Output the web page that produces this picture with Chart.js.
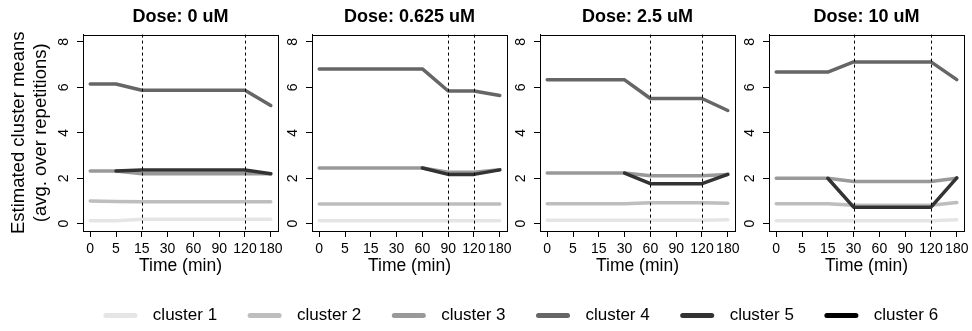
<!DOCTYPE html>
<html>
<head>
<meta charset="utf-8">
<script src="https://cdn.jsdelivr.net/npm/chart.js@4.4.1/dist/chart.umd.min.js"></script>
<style>
  html, body { margin: 0; padding: 0; background: #fff; overflow: hidden; }
  #wrap { position: relative; width: 972px; height: 331px; overflow: hidden; }
  canvas { position: absolute; }
</style>
</head>
<body>
<div id="wrap">
  <canvas id="p0"></canvas>
  <canvas id="p1"></canvas>
  <canvas id="p2"></canvas>
  <canvas id="p3"></canvas>
  <canvas id="leg"></canvas>
</div>
<script>
// time points (equally spaced categories)
const timeLabels = ['0', '5', '15', '30', '60', '90', '120', '180']
const yTicks = [0, 2, 4, 6, 8]
const doses = ['Dose: 0 uM', 'Dose: 0.625 uM', 'Dose: 2.5 uM', 'Dose: 10 uM']
const clusterNames = ['cluster 1', 'cluster 2', 'cluster 3', 'cluster 4', 'cluster 5', 'cluster 6']
const clusterColors = ['#e5e5e5', '#bebebe', '#999999', '#666666', '#333333', '#000000']

// dashed vertical lines (index into timeLabels) per dose
const changePoints = [[2, 6], [5, 6], [4, 6], [3, 6]]

// estimated cluster means, one array per cluster, per dose
const dose0 = [
  [0.13, 0.13, 0.2, 0.2, 0.2, 0.2, 0.2, 0.2],
  [1.0, 0.98, 0.97, 0.97, 0.97, 0.97, 0.97, 0.97],
  [2.32, 2.32, 2.2, 2.2, 2.2, 2.2, 2.2, 2.2],
  [6.15, 6.15, 5.87, 5.87, 5.87, 5.87, 5.87, 5.2],
  [null, 2.32, 2.36, 2.36, 2.36, 2.36, 2.36, 2.2],
  [null, null, null, null, null, null, null, null]
]
const dose0625 = [
  [0.13, 0.13, 0.13, 0.13, 0.13, 0.13, 0.13, 0.13],
  [0.87, 0.87, 0.87, 0.87, 0.87, 0.87, 0.87, 0.87],
  [2.45, 2.45, 2.45, 2.45, 2.45, 2.27, 2.27, 2.37],
  [6.81, 6.81, 6.81, 6.81, 6.81, 5.84, 5.84, 5.64],
  [null, null, null, null, 2.45, 2.17, 2.17, 2.37],
  [null, null, null, null, null, null, null, null]
]
const dose25 = [
  [0.15, 0.15, 0.15, 0.15, 0.15, 0.15, 0.15, 0.17],
  [0.88, 0.88, 0.88, 0.88, 0.92, 0.92, 0.92, 0.9],
  [2.23, 2.23, 2.23, 2.23, 2.11, 2.11, 2.11, 2.17],
  [6.33, 6.33, 6.33, 6.33, 5.51, 5.51, 5.51, 4.98],
  [null, null, null, 2.23, 1.76, 1.76, 1.76, 2.17],
  [null, null, null, null, null, null, null, null]
]
const dose10 = [
  [0.13, 0.13, 0.13, 0.13, 0.13, 0.13, 0.13, 0.18],
  [0.88, 0.88, 0.88, 0.81, 0.81, 0.81, 0.81, 0.93],
  [2.0, 2.0, 2.0, 1.86, 1.86, 1.86, 1.86, 2.0],
  [6.67, 6.67, 6.67, 7.12, 7.12, 7.12, 7.12, 6.34],
  [null, null, 2.0, 0.73, 0.73, 0.73, 0.73, 2.02],
  [null, null, null, null, null, null, null, null]
]
const allDoses = [dose0, dose0625, dose25, dose10]

const FONT = "'Liberation Sans', Arial, sans-serif"
Chart.defaults.font.family = FONT
Chart.defaults.color = '#000'

// box left edges of the 4 panels
const boxLeft = [83, 312, 540, 769]
const boxW = 195

// draws the R-style box, dashed lines and rotated y labels
const panelDeco = {
  id: 'panelDeco',
  afterDatasetsDraw(chart, args, opts) {
    const ctx = chart.ctx
    const a = chart.chartArea
    const xs = chart.scales.x
    const ys = chart.scales.y
    ctx.save()
    ctx.strokeStyle = '#000'
    ctx.lineWidth = 1
    ctx.setLineDash([3, 3])
    opts.lines.forEach(function (i) {
      const px = Math.round(xs.getPixelForValue(i)) + 0.5
      ctx.beginPath()
      ctx.moveTo(px, a.top)
      ctx.lineTo(px, a.bottom)
      ctx.stroke()
    })
    ctx.setLineDash([])
    ctx.strokeRect(Math.round(a.left) + 0.5, Math.round(a.top) + 0.5, Math.round(a.right - a.left), Math.round(a.bottom - a.top))
    // y tick labels, turned like in R
    ctx.fillStyle = '#000'
    ctx.font = '14px ' + FONT
    ctx.textAlign = 'center'
    ctx.textBaseline = 'alphabetic'
    yTicks.forEach(function (v) {
      ctx.save()
      ctx.translate(a.left - 15, ys.getPixelForValue(v))
      ctx.rotate(-Math.PI / 2)
      ctx.fillText(String(v), 0, 0)
      ctx.restore()
    })
    ctx.restore()
  }
}

function makePanel(k) {
  const first = k === 0
  const yw = first ? 83 : 40
  const canvas = document.getElementById('p' + k)
  canvas.width = yw + boxW + 15
  canvas.height = 279
  canvas.style.left = (boxLeft[k] - yw) + 'px'
  canvas.style.top = '0px'

  const data = allDoses[k]
  const datasets = data.map(function (vals, c) {
    return {
      label: clusterNames[c],
      data: vals.map(function (v, i) { return { x: i, y: v } }),
      borderColor: clusterColors[c],
      borderWidth: 3.5,
      borderCapStyle: 'round',
      borderJoinStyle: 'round',
      pointRadius: 0,
      spanGaps: false,
      order: 6 - c
    }
  })

  new Chart(canvas.getContext('2d'), {
    type: 'line',
    data: { datasets: datasets },
    plugins: [panelDeco],
    options: {
      responsive: false,
      animation: false,
      devicePixelRatio: 1,
      layout: { padding: { top: 0, right: 15, bottom: 0, left: 0 } },
      plugins: {
        legend: { display: false },
        tooltip: { enabled: false },
        title: {
          display: true,
          text: doses[k],
          fullSize: false,
          font: { size: 18, weight: 'bold' },
          padding: { top: 6, bottom: 7 }
        },
        panelDeco: { lines: changePoints[k] }
      },
      scales: {
        x: {
          type: 'linear',
          min: -0.28,
          max: 7.28,
          afterBuildTicks: function (s) { s.ticks = timeLabels.map(function (t, i) { return { value: i } }) },
          afterFit: function (s) { s.height = 48 },
          ticks: {
            autoSkip: false,
            maxRotation: 0,
            padding: 4,
            font: { size: 14 },
            callback: function (v) { return timeLabels[v] }
          },
          grid: { drawOnChartArea: false, tickLength: 6, color: '#000' },
          border: { color: '#000' },
          title: { display: true, text: 'Time (min)', font: { size: 17.5 }, padding: { top: 0, bottom: 2 } }
        },
        y: {
          type: 'linear',
          min: -0.32,
          max: 8.32,
          afterBuildTicks: function (s) { s.ticks = yTicks.map(function (v) { return { value: v } }) },
          afterFit: function (s) { s.width = yw },
          ticks: { display: false },
          grid: { drawOnChartArea: false, tickLength: 6, color: '#000' },
          border: { color: '#000' },
          title: {
            display: first,
            text: ['Estimated cluster means', '(avg. over repetitions)'],
            font: { size: 18.5 },
            padding: { top: 8, bottom: 0 }
          }
        }
      }
    }
  })
}

for (let k = 0; k < 4; k++) makePanel(k)

// shared legend at the bottom (canvas made tall so the legend box is not clipped)
const legCanvas = document.getElementById('leg')
legCanvas.width = 930
legCanvas.height = 220
legCanvas.style.left = '57px'
legCanvas.style.top = '274px'
new Chart(legCanvas.getContext('2d'), {
  type: 'line',
  data: {
    datasets: clusterNames.map(function (n, c) {
      return { label: n, data: [], borderColor: clusterColors[c], borderWidth: 5 }
    })
  },
  options: {
    responsive: false,
    animation: false,
    devicePixelRatio: 1,
    scales: { x: { display: false }, y: { display: false } },
    plugins: {
      tooltip: { enabled: false },
      legend: {
        position: 'top',
        labels: {
          usePointStyle: true,
          pointStyleWidth: 29,
          padding: 33,
          font: { size: 17 },
          color: '#000',
          generateLabels: function (chart) {
            return chart.data.datasets.map(function (ds, i) {
              return {
                text: '  ' + ds.label,
                fillStyle: ds.borderColor,
                strokeStyle: ds.borderColor,
                lineWidth: 5,
                lineCap: 'round',
                pointStyle: 'line',
                hidden: false,
                datasetIndex: i,
                fontColor: '#000'
              }
            })
          }
        }
      }
    }
  }
})
</script>
</body>
</html>
